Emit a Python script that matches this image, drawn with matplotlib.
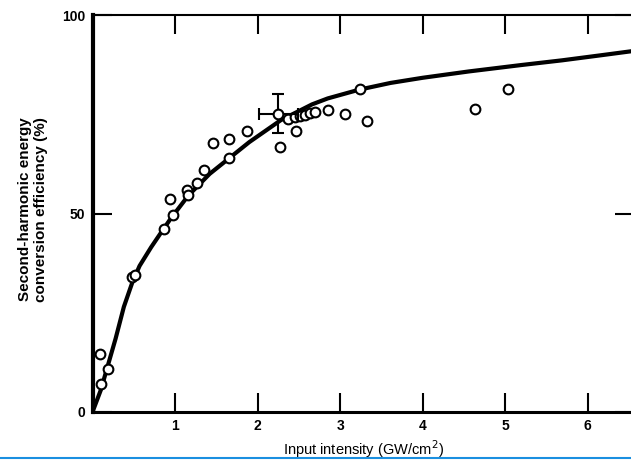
"""SHG conversion efficiency vs input intensity (scanned figure recreation)."""
import matplotlib
matplotlib.use("Agg")
import matplotlib.pyplot as plt
from matplotlib.lines import Line2D

# measured points (open circles)
meas_x = [0.09, 0.10, 0.19, 0.48, 0.51, 0.87, 0.94, 0.98, 1.15, 1.16,
          1.27, 1.35, 1.46, 1.65, 1.65, 1.87, 2.27, 2.46, 2.37, 2.45,
          2.51, 2.58, 2.64, 2.70, 2.85, 3.06, 3.24, 3.33, 4.63, 5.03]
meas_y = [14.6, 7.1, 10.8, 34.1, 34.6, 46.1, 53.6, 49.6, 55.9, 54.7,
          57.6, 61.0, 67.7, 63.9, 68.8, 70.7, 66.8, 70.9, 73.8, 74.2,
          74.6, 74.9, 75.3, 75.6, 76.0, 75.2, 81.4, 73.3, 76.3, 81.4]

# point with error bars
err_x, err_y = [2.25], [75.2]
err_dx, err_dy = [0.235], [4.8]

# theoretical curve
curve_x = [0.0, 0.10, 0.19, 0.28, 0.38, 0.48, 0.57, 0.71, 0.85, 0.95,
           1.16, 1.42, 1.66, 1.90, 2.28, 2.66, 2.85, 3.23, 3.61, 4.00,
           4.56, 5.19, 5.69, 6.17, 6.57]
curve_y = [0.0, 5.5, 12.0, 18.5, 26.5, 32.5, 36.8, 41.5, 45.8, 48.8,
           54.5, 60.0, 64.0, 68.0, 73.5, 77.5, 79.0, 81.2, 82.9, 84.2,
           85.8, 87.4, 88.6, 89.9, 91.0]

xticks = [1, 2, 3, 4, 5, 6]
yticks = [0, 50, 100]

plt.rcParams["font.family"] = ["Liberation Sans", "DejaVu Sans"]

fig = plt.figure(figsize=(6.31, 4.61), dpi=100)
ax = fig.add_axes([0.1466, 0.1063, 0.858, 0.861])

ax.plot(curve_x, curve_y, "-", color="black", lw=3, solid_capstyle="round")
ax.plot(meas_x, meas_y, "o", ms=7, mfc="white", mec="black", mew=1.5,
        zorder=3)
ax.errorbar(err_x, err_y, xerr=err_dx, yerr=err_dy, fmt="o", ms=7,
            mfc="white", mec="black", mew=1.5, ecolor="black", elinewidth=1.5,
            capsize=4, capthick=1.5, zorder=4)

ax.set_xlim(0, 6.56)
ax.set_ylim(0, 100)
ax.set_xticks(xticks)
ax.set_yticks(yticks)
ax.set_xticklabels([str(t) for t in xticks], fontsize=10, fontweight="bold")
ax.set_yticklabels([str(t) for t in yticks], fontsize=10, fontweight="bold")
ax.tick_params(axis="both", direction="in", length=14, width=1.5,
               top=True, right=True, pad=5)

ax.spines["left"].set_linewidth(3)
ax.spines["bottom"].set_linewidth(2.2)
ax.spines["top"].set_linewidth(1.5)
ax.spines["right"].set_linewidth(1.5)

ax.set_xlabel("Input intensity (GW/cm$^2$)", fontsize=10.5, labelpad=3.5)
ax.set_ylabel("Second-harmonic energy\nconversion efficiency (%)",
              fontsize=11, fontweight="bold")
ax.yaxis.set_label_coords(-0.082, 0.51)

# blue border line at the bottom of the scan
fig.add_artist(Line2D([0, 1], [0.006, 0.006], color="#1a8fe0", lw=1.5,
                      transform=fig.transFigure))

fig.savefig("out.png", dpi=100)
